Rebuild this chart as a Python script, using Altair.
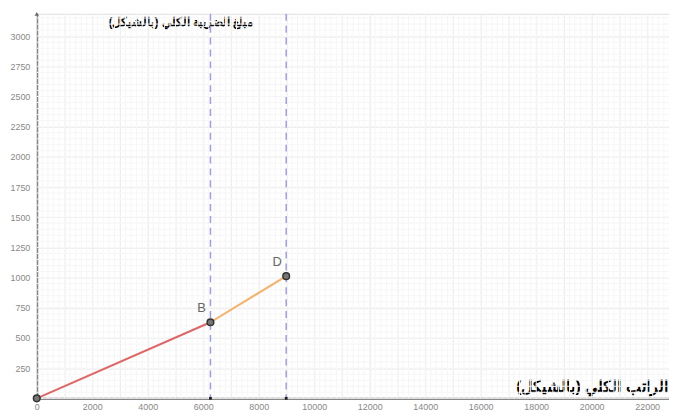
import altair as alt
import pandas as pd

# ---- data ----
salary = [0, 6260, 8990]          # total salary (NIS)
tax = [0, 630, 1012]              # total tax (NIS)
point_labels = ["", "B", "D"]
bracket_edges = [6260, 8990]
seg_names = ["low", "mid"]
seg_colors = ["#e06666", "#f6b26b"]

x_ticks = list(range(0, 23000, 1000))
y_ticks = list(range(0, 3001, 250))
x_minor = list(range(0, 23000, 200))
y_minor = list(range(0, 3200, 50))

X_MAX = 22786
Y_MAX = 3185

pts = pd.DataFrame({"x": salary, "y": tax, "label": point_labels})
segs = pd.DataFrame({
    "x": [salary[0], salary[1], salary[1], salary[2]],
    "y": [tax[0], tax[1], tax[1], tax[2]],
    "seg": [seg_names[0], seg_names[0], seg_names[1], seg_names[1]],
    "order": [0, 1, 0, 1],
})
edges = pd.DataFrame({"x": bracket_edges, "y": [0] * len(bracket_edges)})
xminor = pd.DataFrame({"x": x_minor})
yminor = pd.DataFrame({"y": y_minor})
top = pd.DataFrame({"x": [0], "y": [Y_MAX]})

xs = alt.Scale(domain=[0, X_MAX], nice=False, zero=False)
ys = alt.Scale(domain=[0, Y_MAX], nice=False, zero=False)

x_axis = alt.Axis(
    values=x_ticks, format="d",
    labelExpr="datum.value % 2000 == 0 ? datum.label : ''",
    labelOverlap=False,
    grid=True, gridColor="#e8e8e8", gridWidth=1,
    ticks=False, domainColor="#666666", domainWidth=2,
    labelColor="#888888", labelFontSize=9, labelFont="Liberation Sans",
    labelPadding=4, labelFlush=False,
    title="الراتب الكلي (بالشيكل)", titleAngle=0, titleAlign="right",
    titleBaseline="middle", titleX=636, titleY=-12,
    titleFont="sans-serif", titleFontSize=16, titleFontWeight="bold",
    titleColor="#000000",
)
y_axis = alt.Axis(
    values=y_ticks, format="d",
    labelExpr="datum.value == 0 ? '' : datum.label",
    labelOverlap=False,
    grid=True, gridColor="#e8e8e8", gridWidth=1,
    ticks=False, domainColor="#666666", domainWidth=2,
    labelColor="#888888", labelFontSize=9, labelFont="Liberation Sans",
    labelPadding=7,
    title="مبلغ الضريبة الكلي (بالشيكل)", titleAngle=0, titleAlign="right",
    titleBaseline="middle", titleX=218, titleY=8,
    titleFont="sans-serif", titleFontSize=12, titleFontWeight="bold",
    titleColor="#000000",
)

X = alt.X("x:Q", scale=xs, axis=x_axis)
Y = alt.Y("y:Q", scale=ys, axis=y_axis)

minor_v = alt.Chart(xminor).mark_rule(color="#f6f6f6", strokeWidth=1).encode(x=X)
minor_h = alt.Chart(yminor).mark_rule(color="#f6f6f6", strokeWidth=1).encode(y=Y)

dashed = alt.Chart(edges).mark_rule(
    color="#9c9cf0", strokeWidth=1.5, strokeDash=[7, 5]
).encode(x=X)

axis_marks = alt.Chart(edges).mark_point(
    shape="square", size=8, filled=True, color="#222222", opacity=1
).encode(x=X, y=Y)

lines = alt.Chart(segs).mark_line(strokeWidth=2).encode(
    x=X, y=Y,
    detail="seg:N",
    order="order:Q",
    color=alt.Color("seg:N", scale=alt.Scale(domain=seg_names, range=seg_colors), legend=None),
)

points = alt.Chart(pts).mark_point(
    filled=True, size=45, fill="#777777", stroke="#333333", strokeWidth=1.5, opacity=1
).encode(x=X, y=Y)

labels = alt.Chart(pts).mark_text(
    dx=-9, dy=-14, fontSize=13, color="#666666", font="Liberation Sans"
).encode(x=X, y=Y, text="label:N")

arrow = alt.Chart(top).mark_point(
    shape="triangle-up", size=18, filled=True, color="#666666", opacity=1
).encode(x=X, y=Y)

chart = alt.layer(
    minor_v, minor_h, dashed, lines, axis_marks, points, labels, arrow
).properties(
    width=638, height=388,
    autosize=alt.AutoSizeParams(type="none"),
    padding={"left": 29, "top": 4, "right": 0, "bottom": 19},
).configure_view(stroke=None).configure(background="#ffffff")

chart.save("out.html", embed_options={"renderer": "svg", "actions": False})
